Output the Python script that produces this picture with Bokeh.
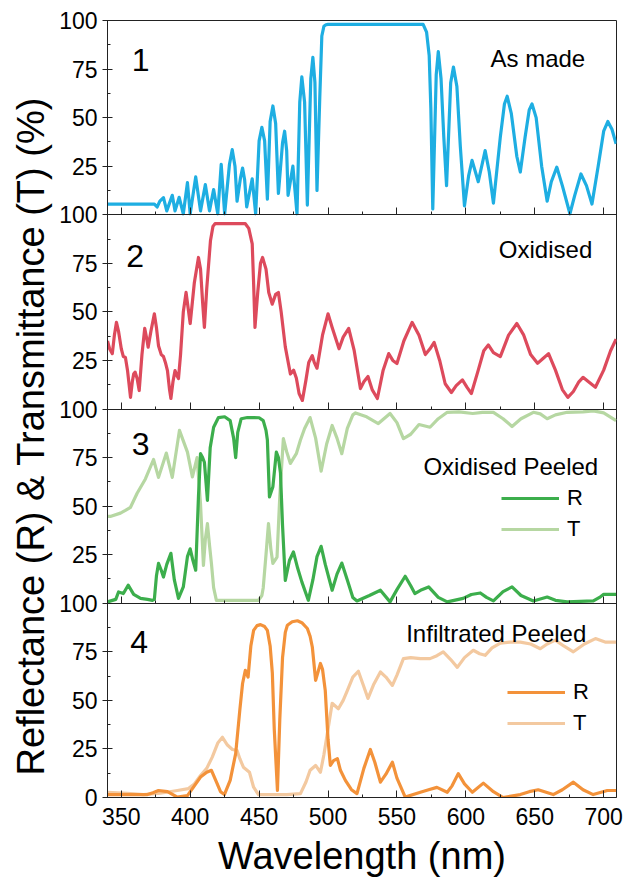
from bokeh.plotting import figure
from bokeh.models import (Range1d, LinearAxis, SingleIntervalTicker, FixedTicker,
                          Label, Legend, LegendItem, Title)
from bokeh.embed import file_html
from bokeh.resources import INLINE

FONT = "Liberation Sans"

# ---------------- data (wavelength nm, percent) ----------------
# Panel 1: As made (reflectance)
x1 = [340, 374, 376, 378, 380.6, 383, 385, 387, 389, 392, 395, 398, 400, 404, 407.5, 411, 414,
      417, 420, 422.5, 425, 428.5, 430.5, 432.5, 434, 436.5, 438, 439.5, 441, 445, 447.5, 450,
      452, 454, 456, 458, 460, 462, 464, 467, 468.5, 470, 471, 474.5, 477.5, 479.5, 481, 483,
      485, 487.5, 489, 490.5, 492, 494, 495.5, 497, 498.5, 500, 569, 571.5, 573.4, 574.6, 576,
      578.5, 580, 582, 584, 586, 589, 591, 593.5, 596, 599, 602, 604.5, 609, 614, 617, 620,
      625, 628, 630, 633, 637, 639.5, 643, 646, 648, 651, 655, 659, 662, 666, 670, 675.5, 679,
      683.5, 687.5, 691.5, 696, 700, 703, 706, 709]
y1 = [5.5, 5.5, 4, 7, 8.8, 2, 6, 10, 2, 9, 0.5, 16.5, 0.5, 19.5, 2, 15.5, 2,
      13, 0.5, 26, 0.5, 26, 33.5, 25, 7, 19, 24, 18, 4, 18.5, 0.5, 38,
      45, 38, 8, 48, 56, 47, 11, 37, 43, 33, 10, 25, 0.5, 58, 71, 58,
      5, 70, 81, 68, 12.5, 60, 92, 97, 97.8, 98, 98, 94, 82, 55, 3,
      72, 84, 70, 40, 15, 68, 76, 66, 35, 4.6, 20, 28, 17, 33, 22, 6,
      40, 57, 61, 52, 30, 22, 40, 54, 57, 50, 25, 7, 17, 24.5, 15, 0.5, 10,
      21, 15, 5.5, 25, 43, 48, 44, 36.5]

# Panel 2: Oxidised (reflectance)
x2 = [340, 341.5, 343.5, 345, 346.5, 348, 350, 351.5, 353, 354.5, 356.7, 358, 359, 360, 361.5,
      363, 365, 367, 368.5, 369.5, 371.5, 374, 375.5, 377, 379, 380.6, 382, 383.5, 385, 386,
      387.5, 389, 390.5, 391.5, 393, 395, 397, 398.5, 400, 403, 406, 407.5, 409, 410.3, 412,
      414.7, 416.5, 418, 440, 442.5, 445, 446, 447, 449, 451, 452.5, 455, 457, 459.5, 462,
      464, 466, 469, 472.7, 475, 477, 479, 481.4, 484, 486, 488.6, 490, 492, 496, 500, 503,
      508, 511, 515, 519, 523.5, 526, 529, 532, 535.8, 540, 544, 547, 550, 555, 561, 566,
      570.6, 574, 577, 581, 585, 589.5, 593, 597.5, 601, 604, 609, 613, 616.3, 620, 625, 631,
      637, 642, 647, 652, 656, 660, 665, 670, 674, 678, 682, 685, 689, 694, 700, 705, 709]
y2 = [35, 31, 28.5, 38, 44.6, 40, 31, 27, 26.5, 20, 6, 14, 18, 19, 15.7,
      9.5, 28, 41.5, 36, 31.8, 40, 49, 42, 32.6, 28, 27, 24, 19.8, 10, 5.4,
      14, 19.8, 17, 15.7, 28, 50, 60, 52, 44, 65, 78, 72, 55, 42, 62,
      86.6, 94, 95.4, 95.4, 93, 85, 65, 42, 60, 75, 78, 72, 60, 54, 59,
      60, 50, 32, 18, 20, 16, 8, 4.4, 15, 24, 27.5, 24, 21, 38, 49, 42,
      31, 37, 41.5, 30, 10.5, 14, 16.7, 10, 5.4, 20, 28.5, 25, 23.4, 35, 44.6, 38,
      28, 31, 34.3, 25, 13, 8.5, 12, 15, 11, 8, 20, 30, 33, 29, 27, 38,
      44, 38, 28, 23.5, 26, 28.5, 20, 10, 6, 9, 14, 16.3, 14, 11.2, 20, 30, 36]

# Panel 3: Oxidised Peeled
x3t = [340, 342, 349.4, 353, 356.7, 361.5, 367.5, 373.4, 377, 382.7, 387, 392.2, 398, 401.6,
       405, 407.5, 409.6, 411, 412.5, 414, 415.4, 417, 419, 449.5, 452, 453, 455, 456.8, 458.5,
       460, 463, 465, 467.6, 470, 472.7, 477, 480, 483, 487, 491, 495, 499, 503, 506.5, 510,
       514, 518, 520, 528, 536.5, 545, 550, 554.7, 560, 566, 574, 580, 586.5, 595, 605, 612,
       620, 627, 633.5, 640, 649, 654, 659, 665, 673.5, 685, 692.5, 700, 709]
y3t = [44.7, 44.7, 46.4, 47.8, 49.4, 56.6, 64, 74, 64.8, 77.3, 64.8, 89, 77.8, 65,
       75, 51, 19.5, 33, 41, 30, 20.5, 8, 1.5, 1.5, 4, 8, 25, 41, 28,
       20.5, 23.8, 55, 84.7, 78, 72, 77, 84, 90, 95.6, 85, 68, 82, 91.5, 85, 77,
       90, 97, 98, 96, 92.5, 97.7, 93, 84.8, 87, 92, 90.6, 95, 98.3, 98.5, 97.7, 98.3,
       98.3, 95, 91, 95, 98.3, 97.5, 95, 97, 98.3, 98.5, 99, 98, 94]
x3r = [340, 346, 348, 351.5, 355, 359, 364, 369, 372.6, 374, 375.5, 377, 379, 380.6, 383, 386,
       388.5, 391.5, 395, 398, 400, 402, 404, 406, 407.5, 409, 410.3, 411.5, 412.5, 414.5, 417,
       420.5, 425, 429, 431.5, 433, 434.5, 437, 441.5, 450, 453, 455, 456, 457.5, 460, 462.5,
       464, 465.5, 467, 469, 472, 474.9, 478, 481, 485.7, 489, 492, 495, 498, 503, 506.5, 510,
       514, 518, 521, 530, 538, 545, 550, 556, 560, 563, 568, 573, 580, 586.5, 598, 604, 610.5,
       615, 620, 627, 633.5, 640, 649, 659, 665, 673.5, 692.5, 697, 700, 709]
y3r = [0.7, 2, 5.8, 5, 9.3, 4.6, 2.5, 2, 1.5, 2, 14, 20.5, 17, 13.5, 20, 25.7,
       12, 2.5, 8.4, 24, 28, 22, 17, 55, 77, 75, 72.6, 62, 53, 80, 90.6,
       95.6, 96, 94, 85, 75, 88, 95, 95.6, 95.5, 94, 89, 84, 54.7, 60, 77.8,
       75, 67, 40, 11.8, 22, 26.4, 18, 11, 1.5, 12, 24, 29.3, 20, 6.7, 15, 20.7,
       12, 3, 1.2, 4, 6.7, 0.7, 7, 13.9, 9, 5, 7, 8.4, 3, 0.7, 2.5, 4.5, 5.3,
       3, 1.2, 6, 8.4, 4, 1.2, 3.2, 1.5, 0.7, 1.2, 3, 4.6, 4.6]

# Panel 4: Infiltrated Peeled
x4r = [340, 349.4, 356.7, 369, 373, 377, 383.5, 390.7, 398, 403, 407.5, 412, 415.4, 419, 422,
       424.8, 429, 433, 436, 438, 440, 442, 444, 446, 448.5, 451, 454, 456, 458, 459.6, 461,
       463.3, 465, 467, 469, 470.5, 474, 477.8, 481, 485, 487, 488.6, 491, 494.5, 496, 498,
       500, 501.7, 504, 506.8, 509, 512.6, 517, 521, 526, 530.7, 534, 538, 542, 546.7, 550,
       556, 567, 573, 579, 586.5, 590, 594.5, 599, 604.7, 612.7, 620, 627, 639.5, 646, 652.5,
       663.4, 670, 678, 685, 692.4, 702.6, 709]
y4r = [1.5, 1.5, 1.5, 1.5, 2.5, 3.6, 3, 0.2, 1, 6, 10.5, 13, 14, 8, 3,
       1.5, 8.8, 22.6, 45, 58.7, 65.5, 62, 78, 86, 88.5, 89, 88, 86, 78, 64, 35,
       3.6, 40, 72, 85, 88.7, 90.5, 91, 90, 87, 83, 77.5, 60.3, 69, 66, 55,
       30, 16.5, 19, 20, 14, 8.8, 4, 2, 15, 24.7, 18, 7.9, 12, 18.2, 10,
       0.2, 2.7, 4, 5.2, 2.7, 6, 12.3, 7, 2.7, 7.4, 3, 0, 1.5, 3, 4,
       1.5, 4, 7.9, 4, 1.5, 3.6, 3.6]
x4t = [340, 354.5, 366, 378.4, 390.7, 398.7, 403, 407.5, 412, 416, 420, 423.4, 427, 430.6, 434,
       436, 438.6, 443, 446, 449.5, 460, 470, 480, 484, 487, 491, 494.5, 497, 499.5, 503,
       507.5, 511, 514, 518, 522, 525.5, 529, 533, 538, 542, 546.7, 550, 554.7, 560, 567, 574,
       579, 583.6, 589, 593.8, 599, 605.4, 610, 614, 619, 625, 632, 639.5, 647, 654, 659,
       664.9, 671, 678, 686, 694, 701, 709]
y4t = [2.7, 2.2, 1.5, 2.2, 3.6, 4.6, 7, 11.3, 15, 20.8, 28, 31, 27, 24.7, 24.2,
       20, 15.6, 13, 5.3, 1.5, 1.5, 1.5, 2, 8, 14, 16.5, 13, 22, 33, 48.5,
       45.7, 50, 55, 62, 65, 58, 51, 58, 64.6, 62, 57.7, 63, 71.5, 72, 71.5, 71.5,
       73, 75, 71, 67, 72, 75.8, 74, 73.2, 77, 79.5, 80, 80, 79, 76.6, 79,
       81, 78, 75, 79, 81.8, 80, 80]

panel_names = ["1", "2", "3", "4"]
panel_titles = ["As made", "Oxidised", "Oxidised Peeled", "Infiltrated Peeled"]
ytick_values = [0, 25, 50, 75, 100, 125, 150, 175, 200, 225, 250, 275, 300, 325, 350, 375, 400]
ytick_labels = ["0", "25", "50", "75", "100", "25", "50", "75", "100",
                "25", "50", "75", "100", "25", "50", "75", "100"]
y_title = "Reflectance (R) & Transmittance (T) (%)"
x_title = "Wavelength (nm)"

BLUE = "#1eaee2"
RED = "#dd4a5c"
GREEN = "#3cae4c"
LGREEN = "#b6d7a2"
ORANGE = "#f3923a"
LORANGE = "#f3c9a0"
AXC = "#222222"

p = figure(width=626, height=884, output_backend="svg", toolbar_location=None,
           x_range=Range1d(340, 709.3), y_range=Range1d(0, 400),
           min_border_left=107, min_border_right=10, min_border_top=20, min_border_bottom=87)
p.extra_y_ranges = {"p1": Range1d(-300, 100), "p2": Range1d(-200, 200),
                    "p3": Range1d(-100, 300), "p4": Range1d(0, 400)}
p.xgrid.grid_line_color = None
p.ygrid.grid_line_color = None
p.outline_line_color = AXC
p.outline_line_width = 1
p.background_fill_color = "white"
p.border_fill_color = "white"

# x axis
xa = p.xaxis[0]
xa.ticker = SingleIntervalTicker(interval=50, num_minor_ticks=2)
xa.major_tick_in = 7
xa.major_tick_out = 0
xa.minor_tick_in = 3
xa.minor_tick_out = 0
xa.axis_line_color = AXC
xa.major_tick_line_color = AXC
xa.minor_tick_line_color = AXC
xa.major_label_text_font = FONT
xa.major_label_text_font_size = "23px"
xa.major_label_text_color = "black"
xa.major_label_standoff = 10
xa.axis_label = x_title
xa.axis_label_text_font = FONT
xa.axis_label_text_font_size = "38px"
xa.axis_label_text_font_style = "normal"
xa.axis_label_text_color = "black"
xa.axis_label_standoff = 7

# internal panel boundaries as axes (ticks only)
for loc in [100, 200, 300]:
    ax = LinearAxis(fixed_location=loc,
                    ticker=SingleIntervalTicker(interval=50, num_minor_ticks=2),
                    major_label_text_color=None, major_label_text_alpha=0,
                    major_tick_in=7, major_tick_out=0, minor_tick_in=3, minor_tick_out=0,
                    axis_line_color=AXC, major_tick_line_color=AXC, minor_tick_line_color=AXC)
    p.add_layout(ax, "below")

# y axis
ya = p.yaxis[0]
ya.ticker = FixedTicker(ticks=ytick_values, minor_ticks=[v + 12.5 for v in ytick_values[:-1]])
ya.major_label_overrides = {v: l for v, l in zip(ytick_values, ytick_labels)}
ya.major_tick_in = 5
ya.major_tick_out = 5
ya.minor_tick_in = 3
ya.minor_tick_out = 0
ya.axis_line_color = AXC
ya.major_tick_line_color = AXC
ya.minor_tick_line_color = AXC
ya.major_label_text_font = FONT
ya.major_label_text_font_size = "23px"
ya.major_label_text_color = "black"
ya.major_label_standoff = 5

# y title as a side title (rotated, reads upward)
p.add_layout(Title(text=y_title, align="left", offset=22, vertical_align="bottom",
                   standoff=9, text_font=FONT, text_font_size="38px",
                   text_font_style="normal", text_color="black"), "left")

LW = 3.2
p.line(x1, y1, y_range_name="p1", line_color=BLUE, line_width=LW, line_join="round")
p.line(x2, y2, y_range_name="p2", line_color=RED, line_width=LW, line_join="round")
t3 = p.line(x3t, y3t, y_range_name="p3", line_color=LGREEN, line_width=LW, line_join="round")
r3 = p.line(x3r, y3r, y_range_name="p3", line_color=GREEN, line_width=LW, line_join="round")
t4 = p.line(x4t, y4t, y_range_name="p4", line_color=LORANGE, line_width=LW, line_join="round")
r4 = p.line(x4r, y4r, y_range_name="p4", line_color=ORANGE, line_width=LW, line_join="round")

# panel numbers and titles
num_pos = [(364, 79.5), (360, 79), (364, 82), (363, 80)]
title_pos = [(686.6, 80.3), (691.7, 82), (696, 70.5), (687.4, 84.5)]
for i, rn in enumerate(["p1", "p2", "p3", "p4"]):
    p.add_layout(Label(x=num_pos[i][0], y=num_pos[i][1], y_range_name=rn, text=panel_names[i],
                       text_font=FONT, text_font_size="32px", text_align="center",
                       text_baseline="alphabetic", text_color="black"))
    p.add_layout(Label(x=title_pos[i][0], y=title_pos[i][1], y_range_name=rn, text=panel_titles[i],
                       text_font=FONT, text_font_size="24px", text_align="right",
                       text_baseline="alphabetic", text_color="black"))

def make_legend(r, t, loc):
    return Legend(items=[LegendItem(label="R", renderers=[r]), LegendItem(label="T", renderers=[t])],
                  location=loc, border_line_color=None, background_fill_alpha=0,
                  padding=0, margin=0, spacing=5, glyph_width=58, glyph_height=26,
                  label_height=26, label_standoff=8, label_text_font=FONT,
                  label_text_font_size="22px", label_text_color="black")

p.add_layout(make_legend(r3, t3, (394, 255)))
p.add_layout(make_legend(r4, t4, (400, 61)))

open("out.html", "w").write(file_html(p, INLINE))
